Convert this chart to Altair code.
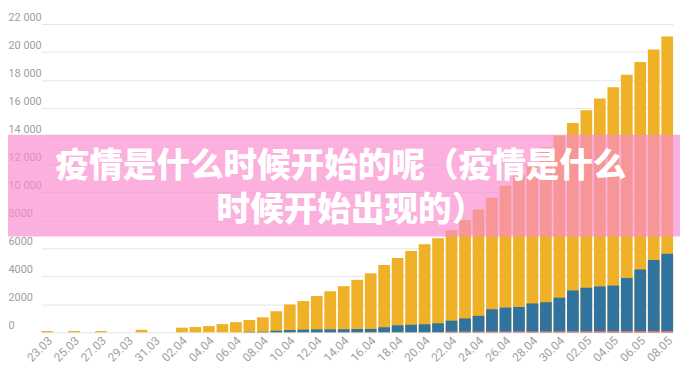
import altair as alt
import pandas as pd

dates = ["23.03", "24.03", "25.03", "26.03", "27.03", "28.03", "29.03", "30.03", "31.03",
         "01.04", "02.04", "03.04", "04.04", "05.04", "06.04", "07.04", "08.04", "09.04", "10.04",
         "11.04", "12.04", "13.04", "14.04", "15.04", "16.04", "17.04", "18.04", "19.04", "20.04",
         "21.04", "22.04", "23.04", "24.04", "25.04", "26.04", "27.04", "28.04", "29.04", "30.04",
         "01.05", "02.05", "03.05", "04.05", "05.05", "06.05", "07.05", "08.05"]

total = [90, 0, 90, 0, 90, 0, 0, 180, 0,
         0, 330, 375, 445, 585, 725, 880, 1070, 1505, 1985,
         2230, 2590, 2930, 3290, 3740, 4210, 4800, 5300, 5805, 6280,
         6720, 7285, 8000, 8770, 9600, 10450, 11220, 12040, 13200, 14050,
         14930, 15850, 16690, 17490, 18385, 19280, 20170, 21110]

blue = [0, 0, 0, 0, 0, 0, 0, 0, 0,
        0, 0, 0, 0, 0, 0, 30, 40, 115, 165,
        190, 210, 210, 215, 235, 240, 360, 500, 540, 575,
        645, 830, 990, 1175, 1645, 1765, 1810, 2060, 2150, 2470,
        2985, 3180, 3270, 3335, 3880, 4480, 5155, 5610]

red = [0, 0, 0, 0, 0, 0, 0, 0, 0,
       0, 0, 0, 0, 0, 0, 0, 0, 0, 0,
       0, 0, 0, 0, 0, 0, 0, 0, 0, 0,
       0, 60, 60, 65, 70, 70, 75, 75, 80, 80,
       85, 85, 90, 90, 95, 95, 100, 100]

x_labels = ["23.03", "25.03", "27.03", "29.03", "31.03", "02.04", "04.04", "06.04", "08.04",
            "10.04", "12.04", "14.04", "16.04", "18.04", "20.04", "22.04", "24.04", "26.04",
            "28.04", "30.04", "02.05", "04.05", "06.05", "08.05"]

y_ticks = [0, 2000, 4000, 6000, 8000, 10000, 12000, 14000, 16000, 18000, 20000, 22000]

title_line1 = "疫情是什么时候开始的呢（疫情是什么"
title_line2 = "时候开始出现的）"

YELLOW = "#EFB128"
BLUE = "#31739F"
RED = "#E07070"
PINK = "#FA89CE"
LABEL = "#9E9E9E"

df = pd.DataFrame({"date": dates, "total": total, "blue": blue, "red": red})

x_enc = alt.X(
    "date:N", sort=None,
    scale=alt.Scale(paddingInner=0.13, paddingOuter=0, range=[33.7, 673]),
    axis=alt.Axis(values=x_labels, labelAngle=-45, labelAlign="right", labelBaseline="middle",
                  labelPadding=6, labelOffset=3, ticks=False, tickSize=0, domain=False, grid=False,
                  labelColor=LABEL, labelFont="Roboto", labelFontSize=12,
                  labelOverlap=False, title=None),
)

y_scale = alt.Scale(domain=[0, 22000], nice=False)
y_axis = alt.Axis(values=y_ticks, title=None, domain=False, ticks=False, tickSize=0,
                  grid=True, gridColor="#E6E6E6", labelAlign="left", labelPadding=0,
                  labelBaseline="alphabetic", labelOffset=-4, labelColor=LABEL,
                  labelFont="Roboto", labelFontSize=11,
                  labelExpr="datum.value >= 10000 ? replace(format(datum.value, ','), ',', ' ') : format(datum.value, 'd')")

base = alt.Chart(df).encode(x=x_enc)

yellow_bars = base.mark_bar(color=YELLOW).encode(y=alt.Y("total:Q", scale=y_scale, axis=y_axis))
blue_bars = base.mark_bar(color=BLUE).encode(y=alt.Y("blue:Q", scale=y_scale, axis=y_axis))
red_bars = base.mark_bar(color=RED).encode(y=alt.Y("red:Q", scale=y_scale, axis=y_axis))

banner = alt.Chart(pd.DataFrame({"k": [0]})).mark_rect(color=PINK, opacity=0.67).encode(
    x=alt.value(0), x2=alt.value(680), y=alt.value(112), y2=alt.value(215)
)

def title_text(line, xpos, ypos):
    return alt.Chart(pd.DataFrame({"t": [line]})).mark_text(
        font="Noto Sans CJK SC", fontSize=34, fontWeight=900, color="white",
        align="center", baseline="middle"
    ).encode(text="t:N", x=alt.value(xpos), y=alt.value(ypos))

t1 = title_text(title_line1, 337, 144.5)
t2 = title_text(title_line2, 347, 189.5)

chart = alt.layer(yellow_bars, blue_bars, red_bars, banner, t1, t2).properties(
    width=675, height=312,
    autosize=alt.AutoSizeParams(type="none"),
    padding={"left": 0, "top": 14, "right": 5, "bottom": 38},
).configure_view(stroke=None)

chart.save("out.html", embed_options={"renderer": "svg", "actions": False})
